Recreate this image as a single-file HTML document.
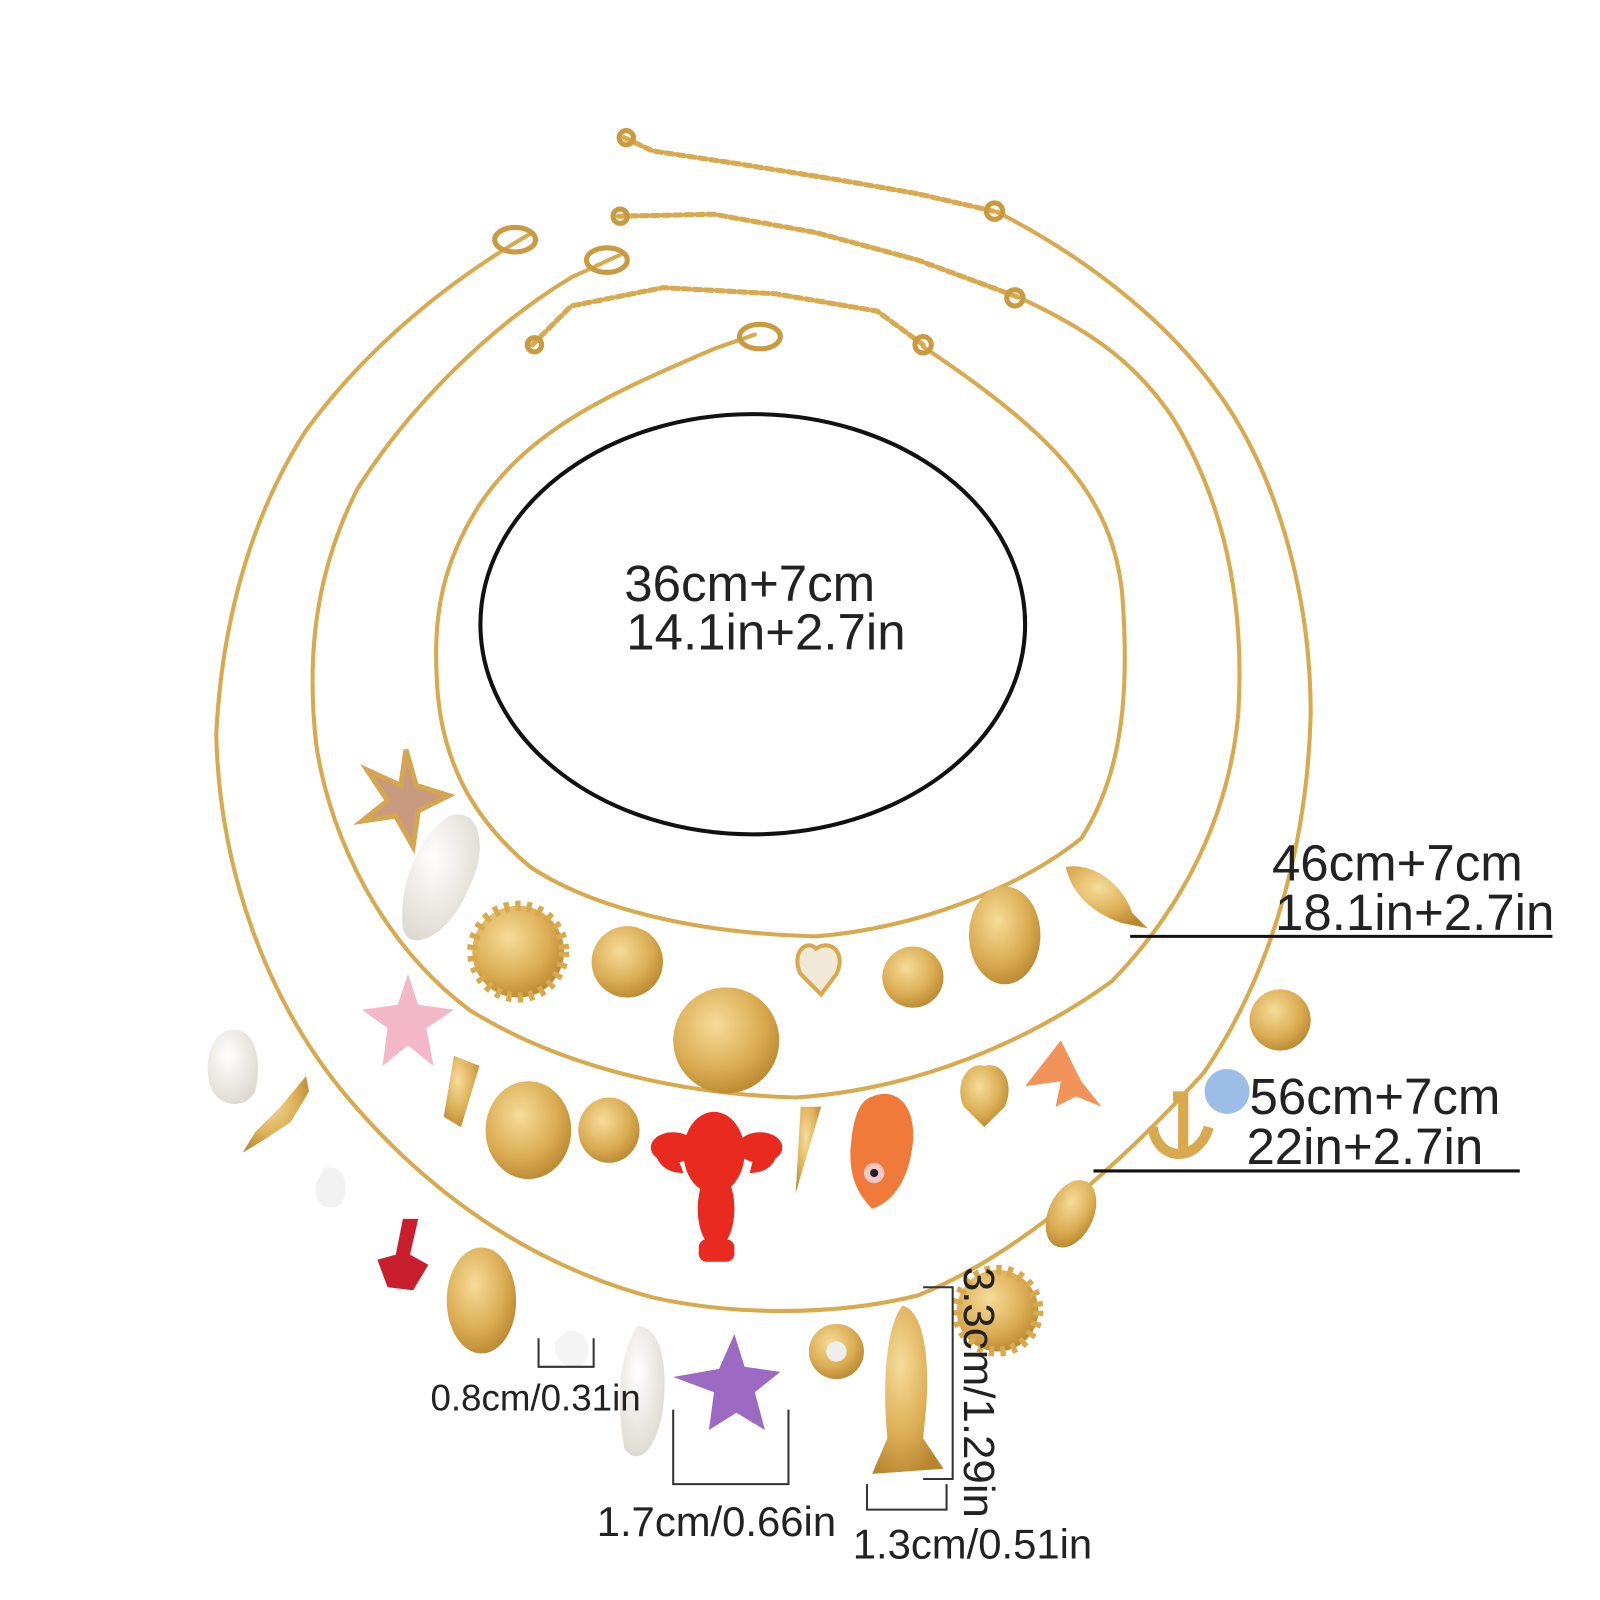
<!DOCTYPE html>
<html><head><style>
html,body{margin:0;padding:0;background:#fff;}
svg{display:block}
text{font-family:"Liberation Sans",sans-serif;fill:#222;}
</style></head><body>
<svg width="1600" height="1600" viewBox="0 0 1600 1600" xmlns="http://www.w3.org/2000/svg">
<defs>
<radialGradient id="g" cx="40%" cy="35%" r="70%"><stop offset="0" stop-color="#f6dc9a"/><stop offset="0.6" stop-color="#dcae55"/><stop offset="1" stop-color="#b8862f"/></radialGradient>
<radialGradient id="p" cx="40%" cy="35%" r="70%"><stop offset="0" stop-color="#fff"/><stop offset="1" stop-color="#ddd8d0"/></radialGradient>
</defs>
<g transform="scale(1.02)">
<g fill="none" stroke="#d9a94e" stroke-width="4" stroke-linejoin="round" stroke-linecap="round">
<path d="M740,328 L700,342 C600,385 520,420 470,495 C435,550 425,600 428,660 C430,740 460,800 520,850 C580,890 680,915 800,918 C900,910 1000,870 1060,822 C1100,760 1108,680 1100,580 C1090,490 1040,430 905,340"/>
<polyline points="522,338 560,300 650,282 760,288 860,305 905,338" stroke-dasharray="7 4" stroke-width="5"/>
<path d="M612,248 L560,272 C480,320 400,400 350,480 C310,560 300,640 310,730 C325,830 380,930 460,990 C540,1040 650,1072 780,1076 C900,1068 1010,1020 1090,962 C1160,890 1205,800 1214,700 C1220,600 1205,500 1150,410 C1110,350 1060,320 1000,292"/>
<polyline points="606,212 700,210 800,228 900,255 1000,292" stroke-dasharray="7 4" stroke-width="5"/>
<path d="M522,228 C440,275 360,340 300,422 C250,500 218,600 212,720 C215,850 260,980 340,1075 C420,1170 520,1240 640,1272 C720,1290 820,1290 900,1270 C1000,1230 1100,1140 1180,1052 C1250,950 1282,820 1285,700 C1285,580 1250,460 1192,382 C1140,310 1060,250 978,208"/>
<polyline points="612,135 640,148 720,160 820,176 900,190 978,208" stroke-dasharray="7 4" stroke-width="5"/>
</g>
<g fill="none" stroke="#c99a40" stroke-width="5">
<ellipse cx="745" cy="330" rx="20" ry="12"/><ellipse cx="595" cy="255" rx="20" ry="12"/><ellipse cx="505" cy="235" rx="20" ry="12"/>
<circle cx="614" cy="135" r="7"/><circle cx="608" cy="212" r="7"/><circle cx="524" cy="338" r="7"/>
<circle cx="975" cy="207" r="8"/><circle cx="995" cy="292" r="8"/><circle cx="905" cy="338" r="8"/>
</g>
<g>
<polygon points="398,735 408,770 440,780 410,795 405,830 388,800 355,805 380,785 360,755 393,770" fill="#c99a7f" stroke="#d4a64f" stroke-width="5"/>
<path d="M440,800 C470,790 480,830 460,870 440,920 400,935 395,910 390,870 410,820 440,800Z" fill="url(#p)"/>
<circle cx="508" cy="933" r="45" fill="url(#g)" stroke="#d9a94e" stroke-width="10" stroke-dasharray="5 6"/>
<circle cx="615" cy="943" r="35" fill="url(#g)"/>
<circle cx="712" cy="1020" r="52" fill="url(#g)"/>
<path d="M800,930 C815,920 830,935 820,955 L805,975 L785,955 C775,935 790,920 800,930Z" fill="#f2e8d8" stroke="#d9a94e" stroke-width="4"/>
<circle cx="895" cy="958" r="30" fill="url(#g)"/>
<ellipse cx="985" cy="917" rx="35" ry="48" fill="url(#g)"/>
<path d="M1045,850 C1070,845 1100,865 1110,895 L1125,910 L1100,905 C1070,895 1050,875 1045,850Z" fill="url(#g)"/>
</g>
<g>
<polygon points="400,955 410,985 445,990 418,1008 425,1045 400,1025 375,1045 380,1008 355,990 390,985" fill="#f3b7c7"/>
<path d="M445,1035 L470,1045 L452,1105 L435,1095Z" fill="url(#g)"/>
<ellipse cx="518" cy="1108" rx="42" ry="48" fill="url(#g)"/>
<ellipse cx="597" cy="1108" rx="30" ry="32" fill="url(#g)"/>
<g fill="#e82a1f">
<ellipse cx="700" cy="1130" rx="30" ry="40"/>
<ellipse cx="702" cy="1185" rx="18" ry="38"/>
<path d="M655,1110 C635,1120 640,1150 670,1150Z"/>
<path d="M745,1110 C770,1120 765,1150 735,1150Z"/>
<ellipse cx="660" cy="1125" rx="22" ry="15"/><ellipse cx="745" cy="1125" rx="22" ry="15"/>
<rect x="685" y="1215" width="35" height="22" rx="8"/>
</g>
<path d="M785,1085 L805,1085 L780,1170Z" fill="url(#g)"/>
<path d="M855,1075 C880,1065 898,1085 895,1120 C890,1165 870,1180 855,1185 C840,1170 830,1150 835,1115 C838,1090 845,1078 855,1075Z" fill="#f07a3a"/>
<circle cx="857" cy="1150" r="10" fill="#f7c7c7"/><circle cx="857" cy="1150" r="4" fill="#222"/>
<path d="M965,1045 C985,1040 995,1065 985,1085 L965,1105 L945,1085 C935,1065 948,1040 965,1045Z" fill="url(#g)"/>
<path d="M1040,1020 L1060,1060 L1080,1085 L1055,1075 L1035,1085 L1040,1060 L1005,1065Z" fill="#f2935a"/>
</g>
<g>
<path d="M225,1010 C250,1005 258,1040 250,1070 C240,1090 210,1085 205,1060 C200,1035 210,1012 225,1010Z" fill="url(#p)"/>
<path d="M300,1055 L275,1085 L250,1110 L238,1130 L258,1118 L285,1100 L303,1070Z" fill="url(#g)"/>
<path d="M318,1145 C335,1140 345,1160 335,1180 C322,1190 305,1180 310,1160Z" fill="#f2f2f2"/>
<path d="M395,1195 L410,1195 L402,1230 L420,1240 L405,1265 L380,1262 L370,1235 L388,1230Z" fill="#c81e2d"/>
<ellipse cx="472" cy="1275" rx="34" ry="52" fill="url(#g)"/>
<path d="M555,1305 C575,1300 585,1325 570,1340 C555,1345 540,1330 545,1315Z" fill="#f4f4f4"/>
<path d="M625,1300 C648,1300 655,1340 650,1380 C645,1420 625,1440 612,1420 C605,1380 605,1330 625,1300Z" fill="url(#p)"/>
<polygon points="720,1308 730,1340 765,1345 740,1365 750,1402 722,1385 695,1402 700,1365 660,1350 705,1342" fill="#9c6ac2"/>
<circle cx="820" cy="1325" r="27" fill="url(#g)"/><circle cx="820" cy="1325" r="10" fill="#eee"/>
<path d="M885,1280 C905,1285 912,1330 908,1380 L905,1410 L925,1440 L855,1445 L870,1410 C865,1360 868,1300 885,1280Z" fill="url(#g)"/>
<circle cx="978" cy="1285" r="40" fill="url(#g)" stroke="#d9a94e" stroke-width="10" stroke-dasharray="5 6"/>
<ellipse cx="1050" cy="1190" rx="22" ry="35" fill="url(#g)" transform="rotate(25 1050 1190)"/>
<path d="M1150,1075 L1160,1075 L1160,1130 M1130,1105 C1135,1140 1175,1140 1185,1105" stroke="#d9a94e" stroke-width="10" fill="none"/>
<circle cx="1203" cy="1070" r="22" fill="#9bbde8"/>
<circle cx="1255" cy="1000" r="30" fill="url(#g)"/>
</g>
<ellipse cx="738" cy="612" rx="267" ry="206" fill="none" stroke="#111" stroke-width="4"/>
<text x="612" y="589" font-size="50">36cm+7cm</text>
<text x="614" y="637" font-size="50">14.1in+2.7in</text>
<text x="1247" y="863" font-size="50">46cm+7cm</text>
<text x="1250" y="912" font-size="50">18.1in+2.7in</text>
<line x1="1108" y1="918" x2="1522" y2="918" stroke="#111" stroke-width="3"/>
<text x="1225" y="1092" font-size="50">56cm+7cm</text>
<text x="1222" y="1141" font-size="50">22in+2.7in</text>
<line x1="1072" y1="1148" x2="1490" y2="1148" stroke="#111" stroke-width="3"/>
<text x="422" y="1383" font-size="36">0.8cm/0.31in</text>
<text x="585" y="1506" font-size="41">1.7cm/0.66in</text>
<text x="836" y="1528" font-size="41">1.3cm/0.51in</text>
<text x="945" y="1242" font-size="43" transform="rotate(90 945 1242)">3.3cm/1.29in</text>
<g fill="none" stroke="#333" stroke-width="2">
<polyline points="528,1312 528,1340 582,1340 582,1312"/>
<polyline points="660,1382 660,1455 773,1455 773,1382"/>
<polyline points="850,1455 850,1480 928,1480 928,1455"/>
<polyline points="905,1262 934,1262 934,1450 905,1450"/>
</g>
</g>
</svg>
</body></html>
